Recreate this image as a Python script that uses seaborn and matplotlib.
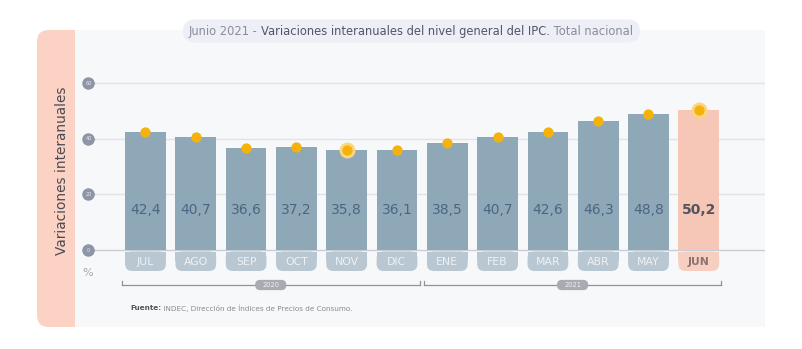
import matplotlib
matplotlib.use("Agg")
import matplotlib.pyplot as plt
from matplotlib.patches import FancyBboxPatch, Rectangle
import seaborn as sns
import pandas as pd

# --- data -------------------------------------------------------------
months = ["JUL", "AGO", "SEP", "OCT", "NOV", "DIC",
          "ENE", "FEB", "MAR", "ABR", "MAY", "JUN"]
values = [42.4, 40.7, 36.6, 37.2, 35.8, 36.1,
          38.5, 40.7, 42.6, 46.3, 48.8, 50.2]
value_labels = ["42,4", "40,7", "36,6", "37,2", "35,8", "36,1",
                "38,5", "40,7", "42,6", "46,3", "48,8", "50,2"]
years = ["2020", "2021"]
year_spans = [(0, 5), (6, 11)]
yticks = [0, 20, 40, 60]
highlight = ["NOV", "JUN"]

# --- colours ----------------------------------------------------------
BAR = "#8fa8b8"
BAR_HI = "#f6c7b6"
TAB = "#b9c7d2"
TAB_HI = "#f7cfc1"
DOT = "#f6b20c"
HALO = "#fbd581"
PANEL = "#f7f8fa"
PINK = "#fbd2c3"
GRID = "#e0e3e8"

W, H = 803, 349
fig = plt.figure(figsize=(W / 100, H / 100), dpi=100)

# background layer in pixel coordinates
bg = fig.add_axes([0, 0, 1, 1], zorder=0)
bg.set_xlim(0, W)
bg.set_ylim(H, 0)
bg.axis("off")
bg.add_patch(FancyBboxPatch((37, 30), 60, 297, boxstyle="round,pad=0,rounding_size=12",
                            fc=PINK, ec="none"))
bg.add_patch(Rectangle((75, 30), 690, 297, fc=PANEL, ec="none"))
bg.add_patch(FancyBboxPatch((183, 19.5), 457, 23, boxstyle="round,pad=0,rounding_size=11.5",
                            fc="#eceff5", ec="none"))
bg.text(62, 171, "Variaciones interanuales", rotation=90, ha="center", va="center",
        fontsize=9.8, color="#4a4a52")

# title with three tones
parts = [("Junio 2021 - ", "#8c8c9c"),
         ("Variaciones interanuales del nivel general del IPC.", "#55556a"),
         (" Total nacional", "#8c8c9c")]
fig.canvas.draw()
renderer = fig.canvas.get_renderer()
texts = []
for s, c in parts:
    t = bg.text(0, 31.5, s, fontsize=8.3, color=c, ha="left", va="center")
    texts.append(t)
widths = [t.get_window_extent(renderer).width for t in texts]
x0 = 411 - sum(widths) / 2
for t, w in zip(texts, widths):
    t.set_x(x0)
    x0 += w

# footer
f1 = bg.text(130, 308, "Fuente:", fontsize=5.2, color="#555560", fontweight="bold",
             ha="left", va="center")
fw = f1.get_window_extent(renderer).width
bg.text(130 + fw, 308, " INDEC, Dirección de Índices de Precios de Consumo.",
        fontsize=5.2, color="#8a8a94", ha="left", va="center")

# --- main chart ---------------------------------------------------------
step = 50.3
c0 = 145.5
ppu = 2.78  # pixels per unit
y0px = 250
aspect = step / ppu  # data-unit aspect for rounded boxes
ax_l, ax_r, ax_t, ax_b = 75, 765, 30, 327
ax = fig.add_axes([ax_l / W, 1 - ax_b / H, (ax_r - ax_l) / W, (ax_b - ax_t) / H], zorder=1)
ax.patch.set_alpha(0)

def px2x(px):
    return (px - c0) / step

def px2y(py):
    return (y0px - py) / ppu

df = pd.DataFrame({"mes": months, "valor": values})
palette = {m: (BAR_HI if m == "JUN" else BAR) for m in months}
sns.barplot(data=df, x="mes", y="valor", hue="mes", palette=palette, order=months,
            width=0.81, saturation=1, legend=False, ax=ax, zorder=3)

ax.set_xlim(px2x(ax_l), px2x(ax_r))
ax.set_ylim(px2y(ax_b), px2y(ax_t))
ax.axis("off")

gx0, gx1 = px2x(95), px2x(765)
for v in yticks:
    ax.plot([gx0, gx1], [v, v], color="#c9cdd5" if v == 0 else GRID, lw=1.0, zorder=1)
    tx = px2x(88.5)
    ax.plot(tx + 0.06, v, marker=">", ms=5, color="#8d95a6", zorder=4, mec="none")
    ax.plot(tx, v, marker="o", ms=9, color="#8d95a6", zorder=5, mec="none")
    ax.text(tx, v, str(v), fontsize=3.6, color="#e8eaef", ha="center", va="center", zorder=6)

ax.text(px2x(88), px2y(273), "%", fontsize=8, color="#a0a6b2", ha="center", va="center")

# month tabs under the zero line (square top, rounded bottom)
tab_top, tab_bot = px2y(251.5), px2y(271)
bw = 0.81
r = 7 / step
for i, m in enumerate(months):
    col = TAB_HI if m == "JUN" else TAB
    ax.add_patch(FancyBboxPatch((i - bw / 2, tab_bot), bw, tab_top - tab_bot,
                                boxstyle=f"round,pad=0,rounding_size={r}",
                                mutation_aspect=aspect, fc=col, ec="none", zorder=2))
    mid = (tab_top + tab_bot) / 2
    ax.add_patch(Rectangle((i - bw / 2, mid), bw, tab_top - mid, fc=col, ec="none", zorder=2))
    if m == "JUN":
        ax.text(i, mid - 0.3, m, fontsize=7.8, fontweight="bold",
                color="#8e7272", ha="center", va="center", zorder=3)
    else:
        ax.text(i, mid - 0.3, m, fontsize=7.8, color="#eef2f5",
                ha="center", va="center", zorder=3)

# value labels and markers on top of the bars
for i, (m, v, lab) in enumerate(zip(months, values, value_labels)):
    if m == "JUN":
        ax.text(i, 14.4, lab, fontsize=10, fontweight="bold", color="#54545e",
                ha="center", va="center", zorder=5)
    else:
        ax.text(i, 14.4, lab, fontsize=10, color="#4c6584", ha="center", va="center", zorder=5)
    if m in highlight:
        ax.plot(i, v, marker="o", ms=11.5, color=HALO, mec="none", zorder=6)
    ax.plot(i, v, marker="o", ms=7.4, color=DOT, mec="none", zorder=7)

# year brackets
yb = px2y(285)
for (a, b), yr in zip(year_spans, years):
    xa, xb = a - 0.47, b + 0.45
    ax.plot([xa, xb], [yb, yb], color="#8f939c", lw=0.9, zorder=2)
    ax.plot([xa, xa], [yb, yb + 1.3], color="#8f939c", lw=0.9, zorder=2)
    ax.plot([xb, xb], [yb, yb + 1.3], color="#8f939c", lw=0.9, zorder=2)
    xc = (xa + xb) / 2
    ax.add_patch(FancyBboxPatch((xc - 0.31, yb - 1.85), 0.62, 3.7,
                                boxstyle=f"round,pad=0,rounding_size={5 / step}",
                                mutation_aspect=aspect, fc="#a9abb0", ec="none", zorder=3))
    ax.text(xc, yb, yr, fontsize=4.8, color="#f2f2f2", ha="center", va="center", zorder=4)

fig.savefig("out.png", dpi=100, facecolor="white")
